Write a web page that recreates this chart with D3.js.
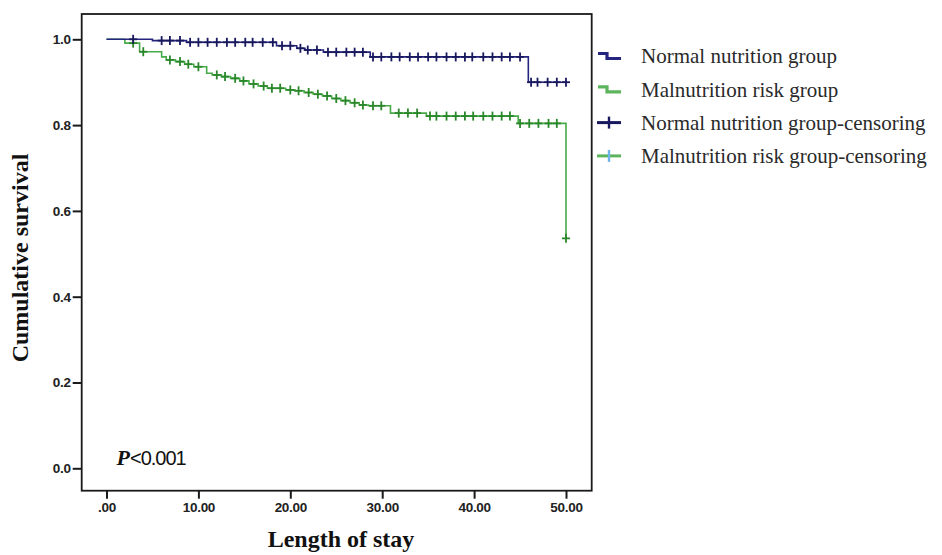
<!DOCTYPE html>
<html>
<head>
<meta charset="utf-8">
<script src="https://cdn.jsdelivr.net/npm/d3@7"></script>
<style>
  html, body { margin: 0; padding: 0; background: #fff; }
  svg { display: block; }
</style>
</head>
<body>
<div id="chart"></div>
<script>
// Kaplan-Meier curves: [day, survival after that day]
const normalSteps = [
  [0, 1.0], [5.0, 0.997], [8.7, 0.993], [18.5, 0.985], [20.7, 0.979],
  [21.6, 0.975], [23.6, 0.970], [28.7, 0.959], [45.9, 0.900], [50.0, 0.900]
];
const malnutritionSteps = [
  [0, 1.0], [2.0, 0.991], [3.6, 0.971], [6.0, 0.959], [6.5, 0.952], [7.5, 0.948],
  [8.5, 0.942], [9.5, 0.936], [10.9, 0.921], [11.5, 0.917], [12.5, 0.913],
  [13.5, 0.909], [14.5, 0.903], [15.5, 0.896], [16.5, 0.891], [17.5, 0.886],
  [19.5, 0.882], [20.5, 0.880], [21.5, 0.876], [22.5, 0.872], [23.5, 0.868],
  [24.5, 0.862], [25.5, 0.857], [26.5, 0.852], [27.5, 0.847], [28.5, 0.845],
  [30.9, 0.828], [34.8, 0.821], [44.8, 0.804], [50.0, 0.536]
];

// censored cases (days)
const normalCensor = [
  2.9, 6.0, 6.9, 8.0, 9.1, 10.0, 11.0, 12.0, 13.1, 14.0, 15.1, 15.9, 17.0, 18.1,
  19.1, 20.0, 21.1, 21.9, 22.9, 24.1, 25.0, 26.1, 27.0, 27.9, 29.0, 29.9, 31.0,
  31.9, 33.0, 33.9, 35.0, 35.9, 37.0, 38.0, 39.0, 39.8, 41.0, 42.0, 43.0, 43.9,
  45.0, 46.2, 46.9, 48.0, 49.0, 50.0
];
const malnutritionCensor = [
  2.9, 4.0, 6.9, 8.0, 8.9, 10.0, 12.0, 12.9, 14.0, 14.9, 16.0, 17.1, 18.0, 18.9,
  20.0, 20.9, 22.0, 23.0, 24.0, 25.0, 26.0, 27.0, 27.9, 29.0, 29.9, 31.8, 32.8,
  33.8, 35.2, 35.9, 37.0, 38.0, 39.0, 39.9, 41.0, 42.0, 43.0, 43.9, 45.0, 46.0,
  47.0, 48.1, 49.0, 50.0
];

const xTicks = [0, 10, 20, 30, 40, 50];
const yTicks = [0, 0.2, 0.4, 0.6, 0.8, 1.0];

const legendLabels = [
  'Normal nutrition group',
  'Malnutrition risk group',
  'Normal nutrition group-censoring',
  'Malnutrition risk group-censoring'
];

const width = 942, height = 555;
const frame = { left: 81.7, top: 14, right: 591.7, bottom: 490.7 };

const navyLine = '#25257f', navyMark = '#18185f';
const greenLine = '#48aa48', greenMark = '#2a872a';
const sky = '#6cb4ea';

const svg = d3.select('#chart').append('svg')
  .attr('width', width)
  .attr('height', height);

const x = d3.scaleLinear().domain([0, 50]).range([106.5, 566]);
const y = d3.scaleLinear().domain([0, 1]).range([468.3, 39.3]);

// frame
svg.append('rect')
  .attr('x', frame.left).attr('y', frame.top)
  .attr('width', frame.right - frame.left)
  .attr('height', frame.bottom - frame.top)
  .attr('fill', 'none')
  .attr('stroke', '#1a1a1a')
  .attr('stroke-width', 1.8);

// axes
const yAxis = svg.append('g')
  .attr('transform', `translate(${frame.left},0)`)
  .call(d3.axisLeft(y).tickValues(yTicks).tickSize(9).tickPadding(2)
    .tickFormat(d3.format('.1f')));
const xAxis = svg.append('g')
  .attr('transform', `translate(0,${frame.bottom})`)
  .call(d3.axisBottom(x).tickValues(xTicks).tickSize(8).tickPadding(4)
    .tickFormat(d => d === 0 ? '.00' : d3.format('.2f')(d)));

[yAxis, xAxis].forEach(a => {
  a.select('.domain').remove();
  a.selectAll('.tick line').attr('stroke', '#1a1a1a').attr('stroke-width', 2);
  a.selectAll('.tick text')
    .attr('fill', '#222')
    .style('font-family', '"Liberation Sans", Arial, sans-serif')
    .style('font-size', '13.5px')
    .style('font-weight', 'bold')
    .style('letter-spacing', '-0.3px');
});

// step curves
const stepLine = d3.line()
  .x(d => x(d[0]))
  .y(d => y(d[1]))
  .curve(d3.curveStepAfter);

function survivalAt(steps, t) {
  let s = steps[0][1];
  steps.forEach(d => { if (d[0] <= t) s = d[1]; });
  return s;
}

const groups = [
  { steps: normalSteps, censor: normalCensor, line: navyLine, mark: navyMark },
  { steps: malnutritionSteps, censor: malnutritionCensor, line: greenLine, mark: greenMark }
];

// draw the green group first so the navy line sits on top at the start
groups.slice().reverse().forEach(g => {
  svg.append('path')
    .datum(g.steps)
    .attr('d', stepLine)
    .attr('fill', 'none')
    .attr('stroke', g.line)
    .attr('stroke-width', 1.6);

  const marks = svg.append('g')
    .selectAll('g')
    .data(g.censor)
    .join('g')
    .attr('transform', d => `translate(${x(d)},${y(survivalAt(g.steps, d))})`)
    .attr('stroke', g.mark)
    .attr('stroke-width', 1.8);
  marks.append('line').attr('x1', -4).attr('x2', 4);
  marks.append('line').attr('y1', -4.5).attr('y2', 4.5);
});

// P value
const pText = svg.append('text')
  .attr('x', 116.5)
  .attr('y', 465)
  .attr('fill', '#111');
pText.append('tspan')
  .text('P')
  .style('font-family', '"Liberation Serif", "Times New Roman", serif')
  .style('font-style', 'italic')
  .style('font-weight', 'bold')
  .style('font-size', '22px');
pText.append('tspan')
  .text('<0.001')
  .style('font-family', '"Liberation Sans", Arial, sans-serif')
  .style('font-size', '20px')
  .style('letter-spacing', '-1px');

// axis titles
svg.append('text')
  .attr('transform', 'translate(28,258) rotate(-90)')
  .attr('text-anchor', 'middle')
  .attr('fill', '#111')
  .style('font-family', '"Liberation Serif", "Times New Roman", serif')
  .style('font-weight', 'bold')
  .style('font-size', '24px')
  .text('Cumulative survival');

svg.append('text')
  .attr('x', 341)
  .attr('y', 547)
  .attr('text-anchor', 'middle')
  .attr('fill', '#111')
  .style('font-family', '"Liberation Serif", "Times New Roman", serif')
  .style('font-weight', 'bold')
  .style('font-size', '24px')
  .text('Length of stay');

// legend
const legend = svg.append('g').attr('transform', 'translate(597,0)');
const rows = legend.selectAll('g')
  .data(legendLabels)
  .join('g')
  .attr('transform', (d, i) => `translate(0,${56 + i * 33.3})`);

rows.append('text')
  .attr('x', 44)
  .attr('dy', '0.35em')
  .attr('fill', '#2a2a2a')
  .style('font-family', '"Liberation Serif", "Times New Roman", serif')
  .style('font-size', '21px')
  .text(d => d);

rows.each(function (d, i) {
  const r = d3.select(this);
  if (i < 2) {
    r.append('path')
      .attr('d', 'M1,-2.5H10V2.5H24')
      .attr('fill', 'none')
      .attr('stroke', i === 0 ? navyLine : '#5cb45c')
      .attr('stroke-width', 3.2);
  } else {
    r.append('line')
      .attr('x1', 0).attr('x2', 24)
      .attr('stroke', i === 2 ? navyMark : '#5cb45c')
      .attr('stroke-width', 3);
    r.append('line')
      .attr('x1', 12).attr('x2', 12).attr('y1', -6).attr('y2', 6)
      .attr('stroke', i === 2 ? navyMark : sky)
      .attr('stroke-width', 2.4);
  }
});
</script>
</body>
</html>
